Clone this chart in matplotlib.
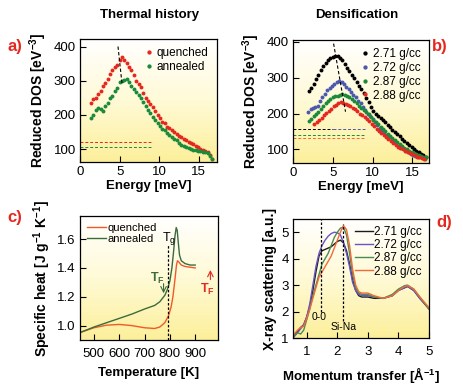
import numpy as np
import matplotlib
import matplotlib.pyplot as plt
from matplotlib.colors import LinearSegmentedColormap

matplotlib.use('Agg')

plt.rcParams['font.family'] = ['Liberation Sans', 'DejaVu Sans']
plt.rcParams['mathtext.default'] = 'regular'

# ---- panel a: thermal history, reduced DOS ----
energy_a = [1.4, 1.7, 2.0, 2.3, 2.6, 2.9, 3.2, 3.5, 3.8, 4.1, 4.4, 4.7, 5.0, 5.3, 5.6,
            5.9, 6.2, 6.5, 6.8, 7.1, 7.4, 7.7, 8.0, 8.3, 8.6, 8.9, 9.2, 9.5, 9.8, 10.1,
            10.4, 10.7, 11.0, 11.3, 11.6, 11.9, 12.2, 12.5, 12.8, 13.1, 13.4, 13.7, 14.0,
            14.3, 14.6, 14.9, 15.2, 15.5, 15.8, 16.1, 16.4, 16.7]
dos_quenched = [235, 245, 250, 262, 270, 285, 292, 305, 320, 330, 340, 345, 360, 368, 362,
                352, 340, 330, 318, 300, 290, 282, 265, 250, 240, 232, 222, 212, 200, 192,
                180, 175, 165, 162, 155, 150, 145, 138, 135, 130, 125, 122, 118, 115, 110,
                105, 100, 98, 95, 90, 82, 72]
dos_annealed = [190, 200, 215, 220, 218, 212, 225, 235, 248, 255, 270, 280, 295, 300, 302,
                305, 295, 285, 275, 268, 258, 250, 238, 225, 215, 205, 195, 185, 175, 168,
                160, 155, 148, 140, 135, 130, 125, 118, 113, 110, 106, 104, 100, 98, 96,
                95, 93, 92, 90, 88, 80, 70]
debye_a = [122, 107]   # dashed Debye levels (quenched, annealed)

# ---- panel b: densification, reduced DOS ----
density_labels = ['2.71 g/cc', '2.72 g/cc', '2.87 g/cc', '2.88 g/cc']
energy_b_271 = [2.0 + 0.3 * i for i in range(50)]
energy_b_272 = [1.9 + 0.3 * i for i in range(50)]
energy_b_287 = [2.0 + 0.3 * i for i in range(50)]
energy_b_288 = [2.7 + 0.3 * i for i in range(47)]
dos_271 = [262, 270, 282, 295, 308, 320, 332, 340, 348, 354, 357, 360, 360, 356, 348,
           338, 328, 318, 308, 298, 288, 278, 268, 256, 244, 232, 218, 207, 200, 194,
           188, 182, 176, 169, 162, 155, 148, 142, 136, 130, 124, 118, 112, 106, 100,
           96, 92, 88, 84, 78]
dos_272 = [205, 212, 215, 218, 222, 235, 245, 255, 265, 272, 278, 283, 287, 290, 288,
           282, 275, 268, 260, 252, 245, 236, 228, 218, 210, 200, 192, 184, 176, 168,
           160, 153, 147, 140, 134, 128, 122, 116, 110, 105, 100, 96, 92, 88, 85,
           82, 80, 78, 76, 74]
dos_287 = [180, 185, 192, 198, 205, 212, 220, 228, 235, 240, 245, 248, 250, 252, 255,
           253, 250, 246, 240, 234, 228, 222, 215, 210, 204, 198, 190, 183, 176, 170,
           163, 157, 150, 144, 138, 132, 126, 120, 115, 110, 105, 100, 96, 92, 89,
           86, 84, 82, 80, 78]
dos_288 = [170, 175, 182, 188, 195, 202, 208, 214, 220, 224, 228, 232, 230, 226, 224,
           220, 216, 212, 206, 200, 195, 190, 184, 178, 172, 165, 158, 152, 146, 140,
           134, 128, 123, 118, 113, 108, 104, 100, 96, 92, 89, 86, 83, 80, 78, 76, 74]
debye_b = [157, 157, 140, 131]

# ---- panel c: specific heat ----
temp_q = [450, 500, 550, 600, 650, 700, 740, 760, 780, 795, 805, 812, 820, 826, 830,
          836, 845, 860, 880, 900]
cp_quenched = [0.955, 0.985, 1.003, 1.008, 1.0, 0.985, 0.98, 0.99, 1.02, 1.07, 1.13, 1.2,
               1.32, 1.42, 1.45, 1.44, 1.42, 1.41, 1.405, 1.40]
temp_a = [450, 500, 550, 600, 650, 700, 740, 760, 780, 790, 800, 808, 815, 820, 825,
          829, 833, 838, 845, 860, 880, 900]
cp_annealed = [0.955, 0.99, 1.02, 1.05, 1.08, 1.115, 1.14, 1.165, 1.21, 1.25, 1.31, 1.40,
               1.52, 1.62, 1.68, 1.66, 1.58, 1.49, 1.45, 1.43, 1.42, 1.42]

# ---- panel d: x-ray scattering ----
q = [0.55, 0.7, 0.8, 0.9, 1.0, 1.1, 1.2, 1.3, 1.4, 1.5, 1.6, 1.7, 1.8, 1.9, 2.0, 2.1,
     2.2, 2.3, 2.4, 2.5, 2.6, 2.7, 2.8, 3.0, 3.2, 3.5, 3.8, 4.0, 4.2, 4.3, 4.5, 4.7, 5.0]
sq_271 = [1.1, 1.25, 1.4, 1.5, 1.8, 2.2, 2.8, 3.5, 4.1, 4.3, 4.35, 4.4, 4.45, 4.55, 4.65,
          4.7, 4.6, 4.3, 3.8, 3.2, 2.8, 2.6, 2.55, 2.55, 2.5, 2.5, 2.6, 2.8, 2.9, 2.95,
          2.8, 2.5, 2.1]
sq_272 = [1.0, 1.2, 1.35, 1.5, 1.8, 2.3, 3.0, 3.7, 4.2, 4.5, 4.7, 4.85, 4.95, 5.0, 4.98,
          4.9, 4.6, 4.2, 3.7, 3.1, 2.8, 2.65, 2.6, 2.6, 2.55, 2.5, 2.6, 2.8, 2.9, 2.95,
          2.8, 2.5, 2.1]
sq_287 = [1.05, 1.2, 1.15, 1.3, 1.7, 2.1, 2.6, 3.0, 3.4, 3.8, 4.0, 4.2, 4.5, 4.8, 5.0,
          5.15, 5.2, 4.9, 4.2, 3.4, 2.9, 2.7, 2.65, 2.65, 2.55, 2.5, 2.65, 2.85, 2.98, 3.0,
          2.85, 2.55, 2.1]
sq_288 = [1.1, 1.3, 1.4, 1.45, 1.75, 2.1, 2.5, 2.9, 3.3, 3.5, 3.7, 3.9, 4.1, 4.4, 4.7,
          5.0, 5.25, 5.1, 4.5, 3.6, 3.0, 2.75, 2.7, 2.7, 2.6, 2.5, 2.6, 2.8, 2.95, 2.98,
          2.85, 2.55, 2.15]

RED = '#e5281f'
GREEN = '#1b8a3a'
BLUE = '#4c58b0'
C_GREEN = '#3a6b3c'
bg_cmap = LinearSegmentedColormap.from_list('bg', ['#fcef9a', '#fffad6', '#ffffff'])


def add_background(ax):
    grad = np.linspace(0, 1, 256).reshape(-1, 1)
    ax.imshow(grad, cmap=bg_cmap, aspect='auto', origin='lower',
              extent=[0, 1, 0, 1], transform=ax.transAxes, zorder=0)


def style_axes(ax, xpad=3):
    ax.tick_params(direction='in', length=4, width=0.8, labelsize=9.5, pad=3)
    ax.tick_params(axis='x', pad=xpad)
    for s in ax.spines.values():
        s.set_linewidth(0.9)


dot_legend = dict(loc='upper right', frameon=False, fontsize=8.5, handletextpad=0.2,
                  handlelength=1.0, borderaxespad=0.3, labelspacing=0.15,
                  markerscale=1.1)

fig = plt.figure(figsize=(4.64, 3.87), dpi=100)
ax_a = fig.add_axes([0.1724, 0.5814, 0.2953, 0.3178])
ax_b = fig.add_axes([0.6315, 0.5788, 0.2931, 0.3178])
ax_c = fig.add_axes([0.1724, 0.1214, 0.2974, 0.3204])
ax_d = fig.add_axes([0.6315, 0.1266, 0.2931, 0.3075])

# panel a
add_background(ax_a)
ax_a.plot(energy_a, dos_quenched, 'o', color=RED, ms=2.8, mew=0, label='quenched')
ax_a.plot(energy_a, dos_annealed, 'o', color=GREEN, ms=2.8, mew=0, label='annealed')
ax_a.plot([4.8, 5.3], [400, 292], 'k--', lw=0.8, dashes=(3, 2))
ax_a.plot([0, 9], [debye_a[0]] * 2, '--', color=RED, lw=0.7, dashes=(3, 2))
ax_a.plot([0, 9], [debye_a[1]] * 2, '--', color=GREEN, lw=0.7, dashes=(3, 2))
ax_a.set_xlim(0, 17.3)
ax_a.set_ylim(62, 422)
ax_a.set_xticks([0, 5, 10, 15])
ax_a.set_yticks([100, 200, 300, 400])
ax_a.set_xlabel('Energy [meV]', fontsize=9.5, fontweight='bold', labelpad=1)
ax_a.set_ylabel('Reduced DOS [eV$^{-3}$]', fontsize=10, fontweight='bold', labelpad=3)
ax_a.legend(**dot_legend)
style_axes(ax_a)

# panel b
add_background(ax_b)
b_colors = ['black', BLUE, GREEN, RED]
b_x = [energy_b_271, energy_b_272, energy_b_287, energy_b_288]
b_y = [dos_271, dos_272, dos_287, dos_288]
for xs, ys, c, lab in zip(b_x, b_y, b_colors, density_labels):
    ax_b.plot(xs, ys, 'o', color=c, ms=2.8, mew=0, label=lab)
ax_b.plot([5.1, 6.6], [395, 205], 'k--', lw=0.8, dashes=(3, 2))
ax_b.plot([0, 5], [debye_b[0]] * 2, '--', color='black', lw=0.7, dashes=(3, 2))
ax_b.plot([5, 9], [debye_b[1]] * 2, '--', color=BLUE, lw=0.7, dashes=(3, 2))
ax_b.plot([0, 9], [debye_b[2]] * 2, '--', color=GREEN, lw=0.7, dashes=(3, 2))
ax_b.plot([0, 9], [debye_b[3]] * 2, '--', color='#f06a2a', lw=0.7, dashes=(3, 2))
ax_b.set_xlim(0, 17.1)
ax_b.set_ylim(62, 405)
ax_b.set_xticks([0, 5, 10, 15])
ax_b.set_yticks([100, 200, 300, 400])
ax_b.set_xlabel('Energy [meV]', fontsize=9.5, fontweight='bold', labelpad=1)
ax_b.set_ylabel('Reduced DOS [eV$^{-3}$]', fontsize=10, fontweight='bold', labelpad=3)
ax_b.legend(**dot_legend)
style_axes(ax_b)

# panel c
add_background(ax_c)
ax_c.plot(temp_q, cp_quenched, color='#f05a28', lw=1.0, label='quenched')
ax_c.plot(temp_a, cp_annealed, color=C_GREEN, lw=1.0, label='annealed')
ax_c.plot([792, 792], [0.9, 1.56], 'k--', lw=0.9, dashes=(2, 1.5))
ax_c.text(795, 1.605, 'T$_g$', fontsize=9, ha='center', va='center')
ax_c.annotate('', xy=(775, 1.205), xytext=(775, 1.31),
              arrowprops=dict(arrowstyle='->', color=C_GREEN, lw=0.8))
ax_c.text(750, 1.33, 'T$_F$', fontsize=9, color=C_GREEN, fontweight='bold',
          ha='center', va='center')
ax_c.annotate('', xy=(960, 1.405), xytext=(960, 1.30),
              arrowprops=dict(arrowstyle='->', color=RED, lw=0.8))
ax_c.text(950, 1.25, 'T$_F$', fontsize=9, color=RED, fontweight='bold',
          ha='center', va='center')
ax_c.set_xlim(445, 990)
ax_c.set_ylim(0.9, 1.76)
ax_c.set_xticks([500, 600, 700, 800, 900])
ax_c.set_yticks([1.0, 1.2, 1.4, 1.6])
ax_c.set_xlabel('Temperature [K]', fontsize=9.5, fontweight='bold', labelpad=5)
ax_c.set_ylabel('Specific heat [J g$^{-1}$ K$^{-1}$]', fontsize=10, fontweight='bold',
                labelpad=3)
ax_c.legend(loc='upper left', frameon=False, fontsize=8, handletextpad=0.1,
            handlelength=1.7, borderaxespad=0.25, labelspacing=0.1)
style_axes(ax_c, xpad=6)

# panel d
add_background(ax_d)
d_colors = ['#1a1a1a', '#6a52c8', '#4c8a50', '#f26a3a']
for ys, c, lab in zip([sq_271, sq_272, sq_287, sq_288], d_colors, density_labels):
    ax_d.plot(q, ys, color=c, lw=1.0, label=lab)
ax_d.plot([1.45, 1.45], [2.0, 5.5], 'k--', lw=0.9, dashes=(2, 1.5))
ax_d.plot([2.17, 2.17], [1.65, 5.3], 'k--', lw=0.9, dashes=(2, 1.5))
ax_d.text(1.4, 1.8, '0-0', fontsize=7.5, ha='center', va='center')
ax_d.text(2.2, 1.42, 'Si-Na', fontsize=7.5, ha='center', va='center')
ax_d.set_xlim(0.55, 5.0)
ax_d.set_ylim(1.0, 5.5)
ax_d.set_xticks([1, 2, 3, 4, 5])
ax_d.set_yticks([1, 2, 3, 4, 5])
ax_d.set_xlabel('Momentum transfer [Å$^{-1}$]', fontsize=9.5, fontweight='bold',
                labelpad=5)
ax_d.set_ylabel('X-ray scattering [a.u.]', fontsize=10, fontweight='bold', labelpad=3)
ax_d.legend(loc='upper right', frameon=False, fontsize=8.5, handletextpad=0.1,
            handlelength=1.5, borderaxespad=0.2, labelspacing=0.1)
style_axes(ax_d, xpad=6)

fig.text(0.323, 0.961, 'Thermal history', fontsize=9.5, fontweight='bold',
         ha='center', va='center')
fig.text(0.769, 0.961, 'Densification', fontsize=9.5, fontweight='bold',
         ha='center', va='center')
for x, y, s in [(0.033, 0.879, 'a)'), (0.948, 0.879, 'b)'),
                (0.033, 0.437, 'c)'), (0.957, 0.426, 'd)')]:
    fig.text(x, y, s, fontsize=12, fontweight='bold', color=RED,
             ha='center', va='center')

fig.savefig('out.png', dpi=100)
